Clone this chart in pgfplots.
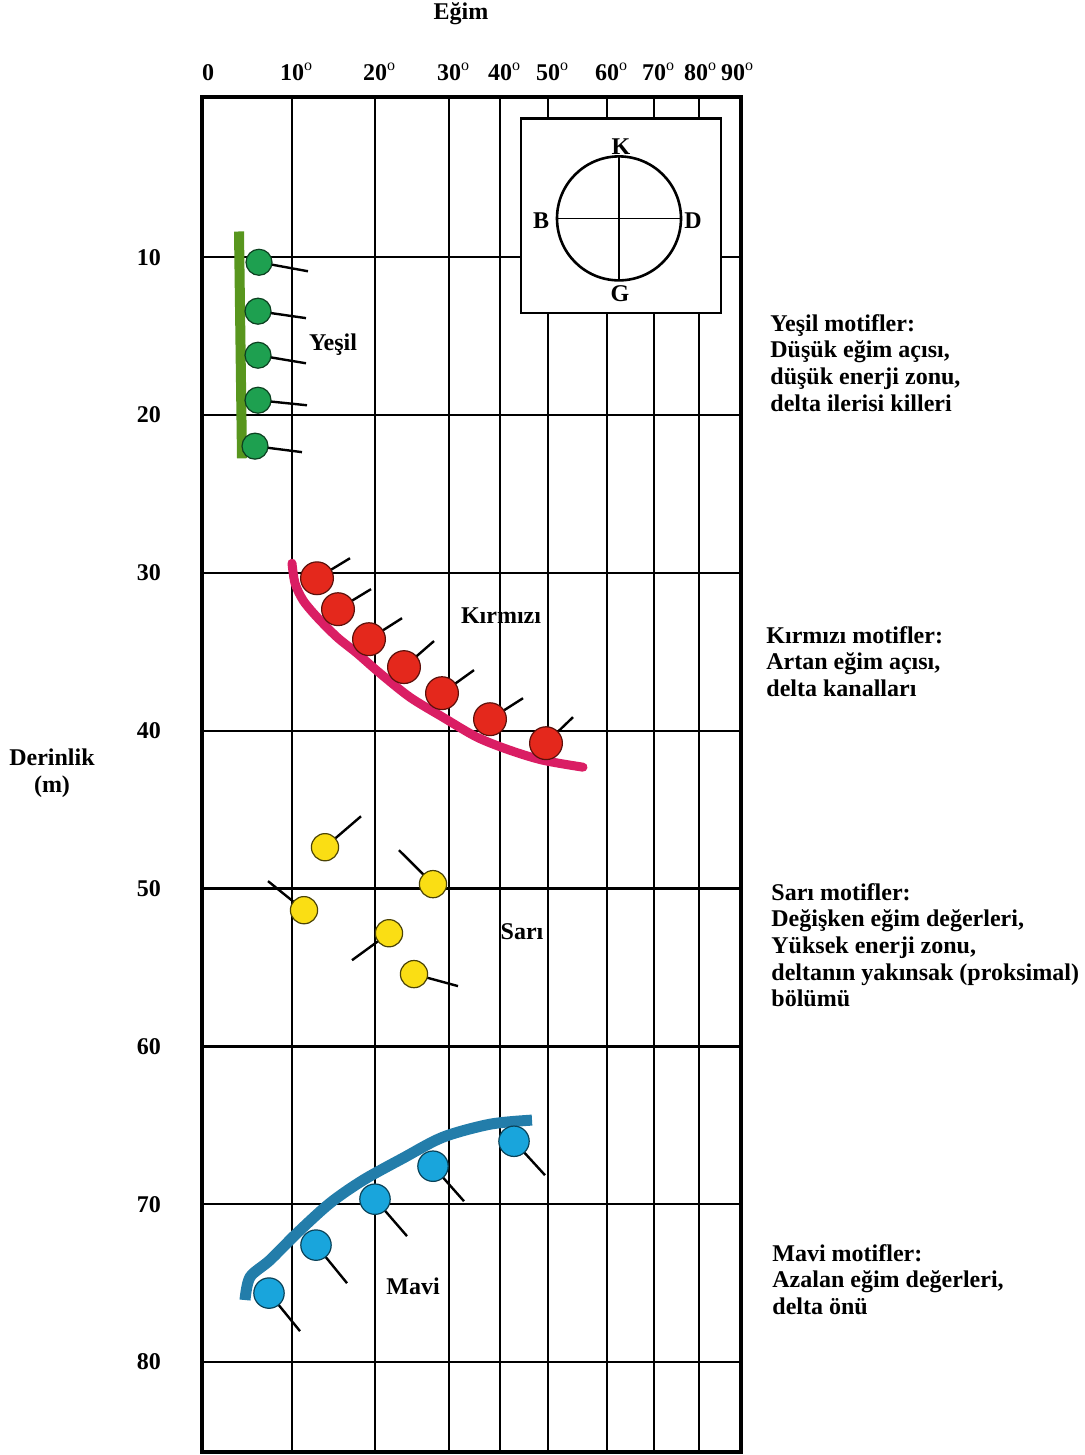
\documentclass[border=0pt]{standalone}
\usepackage{fontspec}
\setmainfont{Liberation Serif}
\usepackage{pgfplots}
\usepackage{pgfplotstable}
\pgfplotsset{compat=1.18}
\definecolor{grnC}{RGB}{30,160,80}
\definecolor{grnB}{RGB}{88,150,30}
\definecolor{redC}{RGB}{228,40,28}
\definecolor{pinkC}{RGB}{218,30,100}
\definecolor{yelC}{RGB}{250,222,20}
\definecolor{bluC}{RGB}{25,165,220}
\definecolor{bluL}{RGB}{35,125,170}

% x = position on the dip scale (grid units), y = depth (m), u,v = tail vector
\pgfplotstableread{
x y u v
57 10.32 49 0.57
56 13.42 48 0.44
56 16.21 48 0.51
56 19.06 49 0.32
53 21.97 47 0.38
}\green
\pgfplotstableread{
x y u v
115 30.34 33 -1.27
136 32.30 33 -1.27
167 34.20 33 -1.33
202 35.97 30 -1.65
240 37.62 32 -1.46
288 39.27 33 -1.33
344 40.79 27 -1.65
}\red
\pgfplotstableread{
x y u v
123 47.38 36 -1.96
231 49.72 -34 -2.15
102 51.37 -36 -1.84
187 52.83 -37 1.71
212 55.42 44 0.76
}\yellow
\pgfplotstableread{
x y u v
67 75.63 31 2.41
114 72.59 31 2.41
173 69.68 32 2.34
231 67.59 31 2.22
312 66.01 31 2.15
}\blue

\newcommand{\dg}{\rlap{\raisebox{1pt}{\textsuperscript{\mdseries o}}}}

\begin{document}
\begin{tikzpicture}[font=\fontsize{12}{13.3}\selectfont\bfseries]
\path[use as bounding box] (0,0) rectangle (542.5pt,-727.5pt);
\begin{axis}[
  at={(101pt,-48.5pt)}, anchor=north west,
  scale only axis, width=269.5pt, height=677.5pt,
  xmin=0, xmax=539, ymin=-0.15, ymax=85.7, y dir=reverse,
  enlargelimits=false, clip=false,
  axis line style={line width=2pt},
  xtick={0,90,173,247,298,346,405,452,497,539},
  xticklabels={\hspace*{6pt}0, 10\dg, 20\dg, 30\dg, 40\dg, 50\dg, 60\dg, 70\dg, \hspace*{0pt}80\dg\hspace*{3pt}, 90\dg\hspace*{8pt}},
  xticklabel pos=upper,
  ytick={10,20,30,40,50,60,70,80},
  yticklabels={10,20,30,40,50,60,70,80},
  major tick length=0pt,
  grid=major, major grid style={black, line width=1.2pt},
  xticklabel style={yshift=4.5pt},
  yticklabel style={xshift=-17pt},
]
% green
\addplot[black, line width=1.2pt, quiver={u=\thisrow{u}, v=\thisrow{v}}] table[x=x,y=y] {\green};
\addplot[only marks, mark=*, mark size=6.5pt, mark options={draw=black!60!grnC, fill=grnC, line width=0.6pt}] table[x=x,y=y] {\green};
\addplot[grnB, line width=5pt] coordinates {(37,8.37) (40,22.74)};
% red
\addplot[pinkC, line width=4.5pt, smooth, line cap=round] coordinates {(90,29.39) (93,30.65) (101,31.73) (115,32.80) (135,34.07) (155,35.09) (178,36.36) (208,37.88) (241,39.15) (275,40.41) (308,41.24) (341,41.87) (381,42.31)};
\addplot[black, line width=1.2pt, quiver={u=\thisrow{u}, v=\thisrow{v}}] table[x=x,y=y] {\red};
\addplot[only marks, mark=*, mark size=8.2pt, mark options={draw=black!60!redC, fill=redC, line width=0.6pt}] table[x=x,y=y] {\red};
% yellow
\addplot[black, line width=1.2pt, quiver={u=\thisrow{u}, v=\thisrow{v}}] table[x=x,y=y] {\yellow};
\addplot[only marks, mark=*, mark size=6.8pt, mark options={draw=black!70!yelC, fill=yelC, line width=0.6pt}] table[x=x,y=y] {\yellow};
% blue
\addplot[black, line width=1.2pt, quiver={u=\thisrow{u}, v=\thisrow{v}}] table[x=x,y=y] {\blue};
\addplot[only marks, mark=*, mark size=7.6pt, mark options={draw=black!60!bluC, fill=bluC, line width=0.6pt}] table[x=x,y=y] {\blue};
\addplot[bluL, line width=5.5pt, smooth] coordinates {(43,76.07) (48,74.62) (68,73.54) (95,71.83) (128,69.93) (161,68.48) (201,67.08) (241,65.75) (288,64.93) (330,64.67)};
% labels
\node at (axis cs:131,15.51) {Yeşil};
\node at (axis cs:299,32.74) {Kırmızı};
\node at (axis cs:320,52.70) {Sarı};
\node at (axis cs:211,75.19) {Mavi};
% inset compass
\draw[fill=white, line width=1.2pt] (axis cs:319,1.20) rectangle (axis cs:519,13.55);
\draw[line width=1.3pt] (axis cs:417,7.54) circle[radius=31pt];
\draw[line width=1.4pt] ([yshift=31pt]axis cs:417,7.54) -- ([yshift=-31pt]axis cs:417,7.54);
\draw[line width=0.8pt] ([xshift=-31pt]axis cs:417,7.54) -- ([xshift=31pt]axis cs:417,7.54);
\node at (axis cs:419,2.97) {K};
\node at (axis cs:339,7.66) {B};
\node at (axis cs:491,7.66) {D};
\node at (axis cs:418,12.28) {G};
\end{axis}
\begin{scope}[x=0.5pt,y=-0.5pt]
\node at (461,14) {Eğim};
\node[align=center] at (52,773) {Derinlik\\(m)};
\node[anchor=north west, inner sep=0pt, align=left] at (770,314) {Yeşil motifler:\\Düşük eğim açısı,\\düşük enerji zonu,\\delta ilerisi killeri};
\node[anchor=north west, inner sep=0pt, align=left] at (766,626) {Kırmızı motifler:\\Artan eğim açısı,\\delta kanalları};
\node[anchor=north west, inner sep=0pt, align=left] at (771,883) {Sarı motifler:\\Değişken eğim değerleri,\\Yüksek enerji zonu,\\deltanın yakınsak (proksimal)\\bölümü};
\node[anchor=north west, inner sep=0pt, align=left] at (772,1244) {Mavi motifler:\\Azalan eğim değerleri,\\delta önü};
\end{scope}
\end{tikzpicture}
\end{document}
